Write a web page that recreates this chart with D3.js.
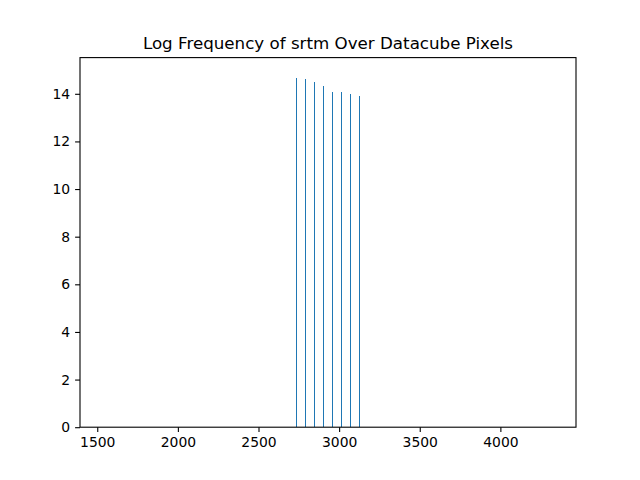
<!DOCTYPE html>
<html>
<head>
<meta charset="utf-8">
<script src="https://cdn.jsdelivr.net/npm/d3@7"></script>
<style>
  body { margin: 0; background: #fff; }
  svg { font-family: "DejaVu Sans", sans-serif; }
</style>
</head>
<body>
<svg width="640" height="480"></svg>
<script>
// Data: bin positions (srtm elevation) and log frequency
let binStarts = [2733, 2789, 2845, 2901, 2956, 3012, 3068, 3124];
let logCounts = [14.66, 14.62, 14.49, 14.32, 14.07, 14.07, 13.99, 13.90];
let xTicks = [1500, 2000, 2500, 3000, 3500, 4000];
let yTicks = [0, 2, 4, 6, 8, 10, 12, 14];
let title = "Log Frequency of srtm Over Datacube Pixels";

let svg = d3.select("svg"),
    margin = {top: 57.6, right: 64, bottom: 52.8, left: 80},
    width = +svg.attr("width") - margin.left - margin.right,
    height = +svg.attr("height") - margin.top - margin.bottom;

let x = d3.scaleLinear().domain([1393, 4469]).range([0, width]);
let y = d3.scaleLinear().domain([0, 15.52]).range([height, 0]);

let g = svg.append("g")
    .attr("transform", `translate(${margin.left},${margin.top})`);

// Bars (very narrow, drawn as 1px rects)
g.selectAll("rect.bar")
  .data(binStarts)
  .enter().append("rect")
    .attr("class", "bar")
    .attr("x", d => Math.round(x(d)))
    .attr("width", 1)
    .attr("y", (d, i) => y(logCounts[i]))
    .attr("height", (d, i) => y(0) - y(logCounts[i]))
    .attr("fill", "#1f77b4")
    .attr("shape-rendering", "crispEdges");

// Axes
let xAxis = g.append("g")
    .attr("transform", `translate(0,${height})`)
    .call(d3.axisBottom(x).tickValues(xTicks).tickSize(4.9).tickPadding(4.9).tickFormat(d3.format("d")));
let yAxis = g.append("g")
    .call(d3.axisLeft(y).tickValues(yTicks).tickSize(4.9).tickPadding(4.9).tickFormat(d3.format("d")));

[xAxis, yAxis].forEach(a => {
  a.select(".domain").remove();
  a.selectAll("text").attr("font-size", "13.9px").attr("fill", "#000")
    .attr("font-family", "DejaVu Sans, sans-serif");
  a.selectAll("line").attr("stroke", "#000").attr("stroke-width", 1.1);
});

// Frame
g.append("rect")
    .attr("width", width).attr("height", height)
    .attr("fill", "none").attr("stroke", "#000").attr("stroke-width", 1.1);

// Title
svg.append("text")
    .attr("x", margin.left + width / 2)
    .attr("y", margin.top - 8.3)
    .attr("text-anchor", "middle")
    .attr("font-size", "16.7px")
    .text(title);
</script>
</body>
</html>
